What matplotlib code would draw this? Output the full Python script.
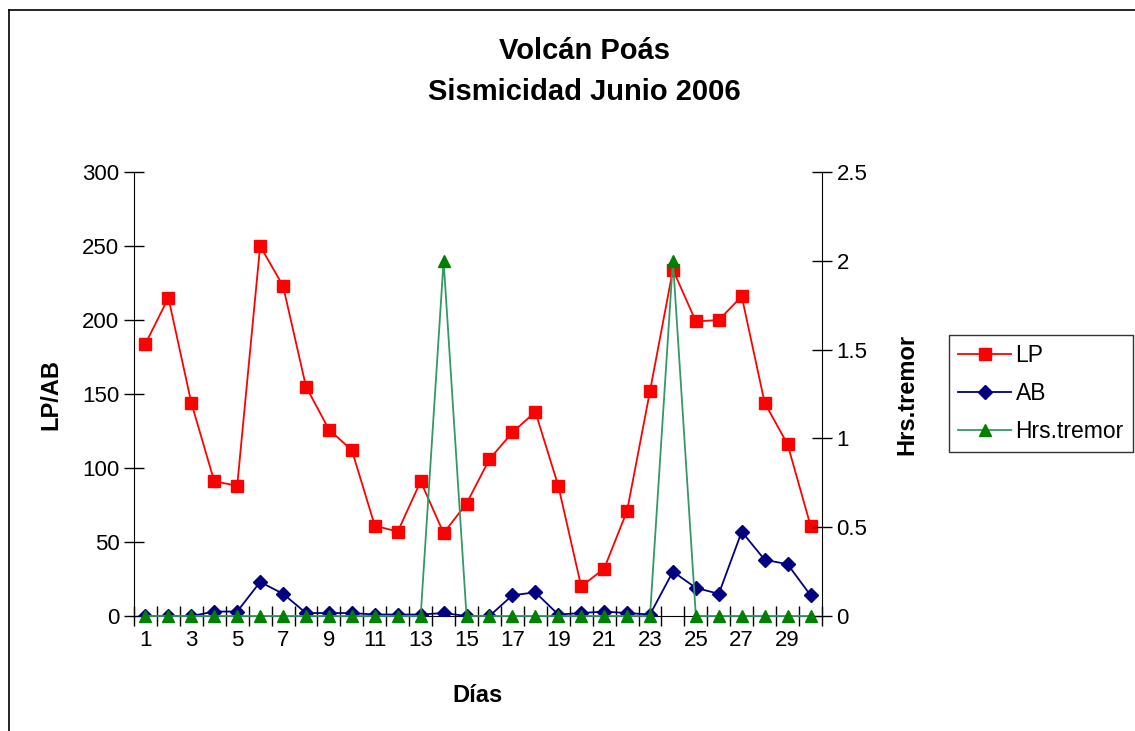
import numpy as np
import matplotlib
matplotlib.use('Agg')
import matplotlib.pyplot as plt
from matplotlib.lines import Line2D
from matplotlib.ticker import FixedLocator, MultipleLocator

plt.rcParams['font.family'] = ['Liberation Sans', 'DejaVu Sans']

dias = list(range(1, 31))
lp = [184, 215, 144, 91, 88, 250, 223, 155, 126, 112, 61, 57, 91, 56, 76,
      106, 124, 138, 88, 20, 32, 71, 152, 234, 199, 200, 216, 144, 116, 61]
ab = [0, 0, 0, 3, 3, 23, 15, 2, 2, 2, 1, 1, 1, 2, 0,
      0, 14, 16, 1, 2, 3, 2, 1, 30, 19, 15, 57, 38, 35, 14]
tremor = [0, 0, 0, 0, 0, 0, 0, 0, 0, 0, 0, 0, 0, 2, 0,
          0, 0, 0, 0, 0, 0, 0, 0, 2, 0, 0, 0, 0, 0, 0]
xlabels = [str(d) for d in dias[::2]]

fig = plt.figure(figsize=(11.35, 7.31), dpi=100)
ax = fig.add_axes([134/1135, 1-616/731, (822-134)/1135, (616-172)/731])
ax2 = ax.twinx()

l1, = ax.plot(dias, lp, color='#FF0000', lw=1.3, marker='s', ms=8,
              mfc='#FF0000', mec='#FF0000', label='LP', zorder=3)
l2, = ax.plot(dias, ab, color='#000080', lw=1.3, marker='D', ms=7,
              mfc='#000080', mec='#000080', label='AB', zorder=3)
l3, = ax2.plot(dias, tremor, color='#339966', lw=1.3, marker='^', ms=9,
               mfc='#008000', mec='#008000', label='Hrs.tremor', clip_on=False)

ax.set_xlim(0.5, 30.5)
ax.set_ylim(0, 300)
ax2.set_ylim(0, 2.5)
ax.yaxis.set_major_locator(MultipleLocator(50))
ax2.set_yticks([0, 0.5, 1, 1.5, 2, 2.5])
ax2.set_yticklabels(['0', '0.5', '1', '1.5', '2', '2.5'])

ax.xaxis.set_major_locator(FixedLocator(dias[::2]))
ax.set_xticklabels(xlabels)
ax.xaxis.set_minor_locator(FixedLocator(np.arange(0.5, 31, 1)))
ax.tick_params(axis='x', which='major', length=0, labelsize=16, pad=10)
ax.tick_params(axis='x', which='minor', direction='inout', length=15, width=1)
ax.tick_params(axis='y', direction='inout', length=15, width=1, labelsize=16, pad=3)
ax2.tick_params(axis='y', direction='inout', length=15, width=1, labelsize=16, pad=3)

for a in (ax, ax2):
    a.spines['top'].set_visible(False)
ax.spines['right'].set_visible(False)
ax2.spines['left'].set_visible(False)
ax2.spines['bottom'].set_visible(False)

ax.set_ylabel('LP/AB', fontsize=17, fontweight='bold', labelpad=14)
ax2.set_ylabel('Hrs.tremor', fontsize=17, fontweight='bold', labelpad=20)
ax.set_xlabel('Días', fontsize=17, fontweight='bold', labelpad=24)

fig.text(0.515, 1-51/731, 'Volcán Poás', ha='center', va='center',
         fontsize=21, fontweight='bold')
fig.text(0.515, 1-92/731, 'Sismicidad Junio 2006', ha='center', va='center',
         fontsize=21, fontweight='bold')

leg = fig.legend(handles=[l1, l2, l3], loc='upper left',
                 bbox_to_anchor=(949/1135, 1-335/731), fontsize=16.5,
                 frameon=True, fancybox=False, edgecolor='black',
                 handlelength=2.3, labelspacing=0.65, borderpad=0.4,
                 handletextpad=0.2, borderaxespad=0)
leg.get_frame().set_linewidth(1)

# outer chart border (cropped at right and bottom)
fig.add_artist(Line2D([9/1135, 9/1135], [0, 1-10/731], color='black', lw=1.2))
fig.add_artist(Line2D([9/1135, 1], [1-10/731, 1-10/731], color='black', lw=1.2))

fig.savefig('out.png', dpi=100)
